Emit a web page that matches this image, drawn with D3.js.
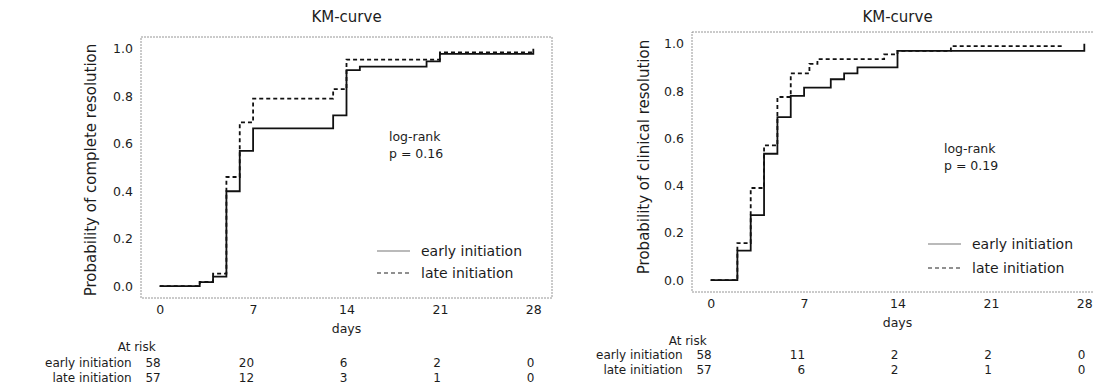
<!DOCTYPE html>
<html><head><meta charset="utf-8">
<script src="https://cdn.jsdelivr.net/npm/d3@7"></script>
<style>
body{margin:0;background:#fff}
text{font-family:"DejaVu Sans",sans-serif;fill:#1c1c1c}
</style>
</head><body>
<svg id="c" width="1094" height="392"></svg>
<script>
// ---------------- data ----------------
const dayTicks = [0, 7, 14, 21, 28];
const probTicks = [0, 0.2, 0.4, 0.6, 0.8, 1.0];
const groupNames = ["early initiation", "late initiation"];
const panelTitles = ["KM-curve", "KM-curve"];
const yLabels = ["Probability of complete resolution", "Probability of clinical resolution"];
const logRankLabels = ["p = 0.16", "p = 0.19"];

// complete resolution (left)
const completeEarlyDays = [0, 3, 4, 5, 6, 7, 13, 14, 15, 20, 21, 28];
const completeEarlyProb = [0, 0.017, 0.04, 0.40, 0.57, 0.665, 0.72, 0.91, 0.925, 0.947, 0.979, 1.0];
const completeLateDays  = [0, 3, 4, 5, 6, 7, 13, 14, 21, 28];
const completeLateProb  = [0, 0.018, 0.053, 0.46, 0.69, 0.79, 0.83, 0.955, 0.985, 0.985];

// clinical resolution (right)
const clinicalEarlyDays = [0, 2, 3, 4, 5, 6, 7, 9, 10, 11, 14, 28];
const clinicalEarlyProb = [0, 0.125, 0.275, 0.535, 0.69, 0.78, 0.815, 0.85, 0.875, 0.90, 0.97, 1.0];
const clinicalLateDays  = [0, 2, 3, 4, 5, 6, 7.4, 8, 13, 14, 18, 26.5];
const clinicalLateProb  = [0, 0.157, 0.39, 0.57, 0.775, 0.875, 0.915, 0.935, 0.955, 0.97, 0.99, 0.99];

// numbers at risk at each day tick
const completeRiskEarly = [58, 20, 6, 2, 0];
const completeRiskLate  = [57, 12, 3, 1, 0];
const clinicalRiskEarly = [58, 11, 2, 2, 0];
const clinicalRiskLate  = [57, 6, 2, 1, 0];

// ---------------- layout ----------------
const panels = [
  {frame:{l:141, r:552, t:37, b:298}, title:panelTitles[0], ylab:yLabels[0], ylabX:96, ylabY:170,
   series:[[completeEarlyDays, completeEarlyProb],[completeLateDays, completeLateProb]],
   risk:[completeRiskEarly, completeRiskLate], p:logRankLabels[0],
   lr:{x:389, y:141}, leg:{x:377, y:251, gap:22}, rows:{tick:315, days:333, atrisk:351, r1:367, r2:382}},
  {frame:{l:692, r:1103, t:32, b:292}, title:panelTitles[1], ylab:yLabels[1], ylabX:649, ylabY:157,
   series:[[clinicalEarlyDays, clinicalEarlyProb],[clinicalLateDays, clinicalLateProb]],
   risk:[clinicalRiskEarly, clinicalRiskLate], p:logRankLabels[1],
   lr:{x:944, y:153}, leg:{x:928, y:244, gap:24}, rows:{tick:309, days:327, atrisk:345, r1:359, r2:374}}
];

const svg = d3.select("#c");
const dashes = [null, "4,3"];

panels.forEach(P => {
  const f = P.frame;
  const x = d3.scaleLinear().domain([-1.4, 29.4]).range([f.l, f.r]);
  const y = d3.scaleLinear().domain([-0.05, 1.05]).range([f.b, f.t]);
  const g = svg.append("g");

  // frame
  g.append("rect").attr("x", f.l).attr("y", f.t).attr("width", f.r - f.l).attr("height", f.b - f.t)
    .attr("fill", "none").attr("stroke", "#8a8a8a").attr("stroke-width", 0.9).attr("stroke-dasharray", "2,1");

  // title
  g.append("text").attr("x", (f.l + f.r) / 2).attr("y", 22).attr("text-anchor", "middle")
    .attr("font-size", 15).text(P.title);

  // x axis
  const xa = d3.axisBottom(x).tickValues(dayTicks).tickSize(0).tickPadding(0).tickFormat(d3.format("d"));
  const gx = g.append("g").attr("transform", `translate(0,${P.rows.tick - 10})`).call(xa);
  gx.select(".domain").remove();
  gx.selectAll("text").attr("font-size", 12.5).attr("font-family", "DejaVu Sans").attr("fill", "#1c1c1c").attr("dy", "0.71em");

  // y axis
  const ya = d3.axisLeft(y).tickValues(probTicks).tickSize(0).tickPadding(8).tickFormat(d3.format(".1f"));
  const gy = g.append("g").attr("transform", `translate(${f.l},0)`).call(ya);
  gy.select(".domain").remove();
  gy.selectAll("text").attr("font-size", 12.5).attr("font-family", "DejaVu Sans").attr("fill", "#1c1c1c");

  // y label
  g.append("text").attr("transform", `translate(${P.ylabX},${P.ylabY}) rotate(-90)`)
    .attr("text-anchor", "middle").attr("font-size", 15).text(P.ylab);

  // x label
  g.append("text").attr("x", (f.l + f.r) / 2).attr("y", P.rows.days).attr("text-anchor", "middle")
    .attr("font-size", 12.5).text("days");

  // curves
  const line = d3.line().curve(d3.curveStepAfter).x(d => x(d[0])).y(d => y(d[1]));
  P.series.forEach((s, i) => {
    const pts = s[0].map((t, k) => [t, s[1][k]]);
    g.append("path").attr("d", line(pts)).attr("fill", "none").attr("stroke", "#111")
      .attr("stroke-width", 1.8).attr("stroke-dasharray", dashes[i]);
  });

  // log-rank
  g.append("text").attr("x", P.lr.x).attr("y", P.lr.y).attr("font-size", 12.5).text("log-rank");
  g.append("text").attr("x", P.lr.x).attr("y", P.lr.y + 17).attr("font-size", 12.5).text(P.p);

  // legend
  groupNames.forEach((n, i) => {
    const yy = P.leg.y + i * P.leg.gap;
    g.append("line").attr("x1", P.leg.x).attr("x2", P.leg.x + 33).attr("y1", yy).attr("y2", yy)
      .attr("stroke", i === 0 ? "#777" : "#222").attr("stroke-width", 1.2).attr("stroke-dasharray", dashes[i]);
    g.append("text").attr("x", P.leg.x + 44).attr("y", yy + 5).attr("font-size", 14).text(n);
  });

  // at-risk table
  g.append("text").attr("x", x(0) - 4).attr("y", P.rows.atrisk).attr("text-anchor", "end")
    .attr("font-size", 12).text("At risk");
  P.risk.forEach((row, i) => {
    const yy = i === 0 ? P.rows.r1 : P.rows.r2;
    g.append("text").attr("x", x(0) - 28).attr("y", yy).attr("text-anchor", "end")
      .attr("font-size", 12).text(groupNames[i]);
    dayTicks.forEach((t, k) => {
      g.append("text").attr("x", x(t) + 1).attr("y", yy).attr("text-anchor", "end")
        .attr("font-size", 12).text(row[k]);
    });
  });
});
</script>
</body></html>
